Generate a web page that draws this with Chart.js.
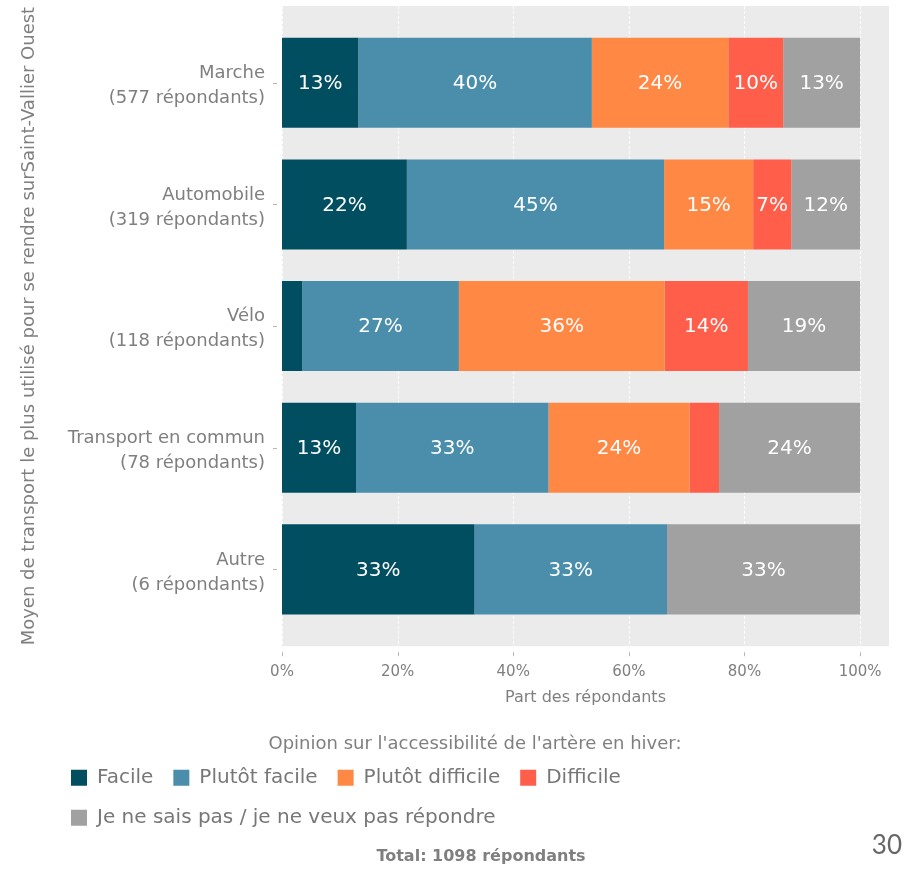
<!DOCTYPE html>
<html lang="fr">
<head>
<meta charset="utf-8">
<title>Accessibilité de l'artère en hiver</title>
<script src="https://cdn.jsdelivr.net/npm/chart.js@4.4.1/dist/chart.umd.min.js"></script>
<style>
  html, body { margin: 0; padding: 0; background: #fff; }
</style>
</head>
<body>
<canvas id="accesChart" width="905" height="869"></canvas>
<script>
// modes de transport (une ligne par barre)
const modes = [
  ['Marche', '(577 répondants)'],
  ['Automobile', '(319 répondants)'],
  ['Vélo', '(118 répondants)'],
  ['Transport en commun', '(78 répondants)'],
  ['Autre', '(6 répondants)']
];
const opinions = ['Facile', 'Plutôt facile', 'Plutôt difficile', 'Difficile', 'Je ne sais pas / je ne veux pas répondre'];

// part des répondants (%)
const facile          = [13.2, 21.6,  3.5, 12.8, 33.3];
const plutotFacile    = [40.4, 44.5, 27.1, 33.3, 33.3];
const plutotDifficile = [23.6, 15.4, 35.6, 24.4,  0];
const difficile       = [ 9.5,  6.6, 14.4,  5.1,  0];
const neSaisPas       = [13.3, 11.9, 19.4, 24.4, 33.4];

const xTicks = [0, 20, 40, 60, 80, 100];
const colors = ['#024e61', '#4a8eab', '#ff8845', '#ff5e4b', '#a1a1a1'];
const totalText = 'Total: 1098 répondants';

const grey = '#7f7f7f';
Chart.defaults.font.family = "'DejaVu Sans', Verdana, sans-serif";
Chart.defaults.color = grey;

// fond gris du panneau + grille pointillée + petites graduations
const panel = {
  id: 'panel',
  beforeDatasetsDraw(chart) {
    const { ctx, chartArea: a, scales: { x, y } } = chart;
    const top = a.top - 16, bottom = a.bottom + 16;
    ctx.save();
    ctx.fillStyle = '#ebebeb';
    ctx.fillRect(a.left, top, a.right - a.left, bottom - top);
    ctx.strokeStyle = '#ffffff';
    ctx.lineWidth = 1;
    ctx.setLineDash([3, 2]);
    xTicks.forEach(v => {
      const px = Math.round(x.getPixelForValue(v)) + 0.5;
      ctx.beginPath(); ctx.moveTo(px, top); ctx.lineTo(px, bottom); ctx.stroke();
    });
    ctx.setLineDash([]);
    ctx.strokeStyle = '#b5b5b5';
    xTicks.forEach(v => {
      const px = Math.round(x.getPixelForValue(v)) + 0.5;
      ctx.beginPath(); ctx.moveTo(px, bottom + 6); ctx.lineTo(px, bottom + 10); ctx.stroke();
    });
    modes.forEach((m, i) => {
      const py = Math.round(y.getPixelForValue(i)) + 0.5;
      ctx.beginPath(); ctx.moveTo(a.left - 9, py); ctx.lineTo(a.left - 5, py); ctx.stroke();
    });
    ctx.restore();
  }
};

// étiquettes % dans les barres
const barLabels = {
  id: 'barLabels',
  afterDatasetsDraw(chart) {
    const { ctx } = chart;
    ctx.save();
    ctx.fillStyle = '#ffffff';
    ctx.font = "20px 'DejaVu Sans', Verdana, sans-serif";
    ctx.textAlign = 'center';
    ctx.textBaseline = 'middle';
    chart.data.datasets.forEach((ds, di) => {
      chart.getDatasetMeta(di).data.forEach((bar, i) => {
        const v = ds.data[i];
        if (v < 6) return;
        ctx.fillText(Math.round(v) + '%', (bar.x + bar.base) / 2, bar.y + 1);
      });
    });
    ctx.restore();
  }
};

// le titre de légende et le total sont un peu décalés vers la droite
const nudgeTitles = {
  id: 'nudgeTitles',
  afterLayout(chart) {
    chart.boxes.forEach(b => {
      let dx = 0;
      if (b === chart.titleBlock) dx = 5;
      else if (b.options && b.options.text === totalText) dx = 11;
      b.left += dx;
      b.right += dx;
    });
  }
};

const pageNumber = {
  id: 'pageNumber',
  afterDraw(chart) {
    const { ctx, width, height } = chart;
    ctx.save();
    ctx.fillStyle = '#666666';
    ctx.font = "26px Lato, 'DejaVu Sans', sans-serif";
    ctx.textAlign = 'right';
    ctx.textBaseline = 'middle';
    ctx.fillText('30', width - 3, height - 23);
    ctx.restore();
  }
};

const series = [facile, plutotFacile, plutotDifficile, difficile, neSaisPas];

new Chart(document.getElementById('accesChart'), {
  type: 'bar',
  data: {
    labels: modes,
    datasets: series.map((d, i) => ({
      label: opinions[i],
      data: d,
      backgroundColor: colors[i],
      borderWidth: 0,
      barPercentage: 0.74,
      categoryPercentage: 1
    }))
  },
  options: {
    indexAxis: 'y',
    responsive: false,
    animation: false,
    layout: { padding: { top: 22, right: 16, left: 51, bottom: 3 } },
    scales: {
      x: {
        type: 'linear',
        stacked: true,
        min: 0,
        max: 105,
        afterBuildTicks: s => { s.ticks = xTicks.map(v => ({ value: v })); },
        afterFit: s => { s.height = 77; s.paddingLeft = 0; s.paddingRight = 0; },
        grid: { display: false, drawTicks: false },
        border: { display: false },
        ticks: { padding: 33, font: { size: 15 }, color: grey, callback: v => v + '%' },
        title: {
          display: true,
          text: 'Part des répondants',
          font: { size: 16 },
          color: grey,
          padding: { top: 0, bottom: 0 }
        }
      },
      y: {
        stacked: true,
        afterFit: s => { s.width = 231; s.paddingTop = 0; s.paddingBottom = 0; },
        grid: { display: false, drawTicks: false },
        border: { display: false },
        ticks: { padding: 17, labelOffset: 3, font: { size: 18, lineHeight: 1.39 }, color: grey },
        title: {
          display: true,
          text: 'Moyen de transport le plus utilisé pour se rendre surSaint-Vallier Ouest',
          font: { size: 18 },
          color: grey,
          padding: { top: -32, bottom: 0 }
        }
      }
    },
    plugins: {
      tooltip: { enabled: false },
      title: {
        display: true,
        position: 'bottom',
        weight: 500,
        text: "Opinion sur l'accessibilité de l'artère en hiver:",
        font: { size: 18, weight: 'normal' },
        color: grey,
        padding: { top: 26, bottom: -7 }
      },
      legend: {
        position: 'bottom',
        align: 'start',
        labels: {
          boxWidth: 16,
          boxHeight: 16,
          padding: 20,
          color: '#777777',
          font: { size: 20 }
        }
      },
      subtitle: {
        display: true,
        position: 'bottom',
        text: totalText,
        font: { size: 16, weight: 'bold' },
        color: grey,
        padding: { top: 9, bottom: 0 }
      }
    }
  },
  plugins: [panel, barLabels, nudgeTitles, pageNumber]
});
</script>
</body>
</html>
